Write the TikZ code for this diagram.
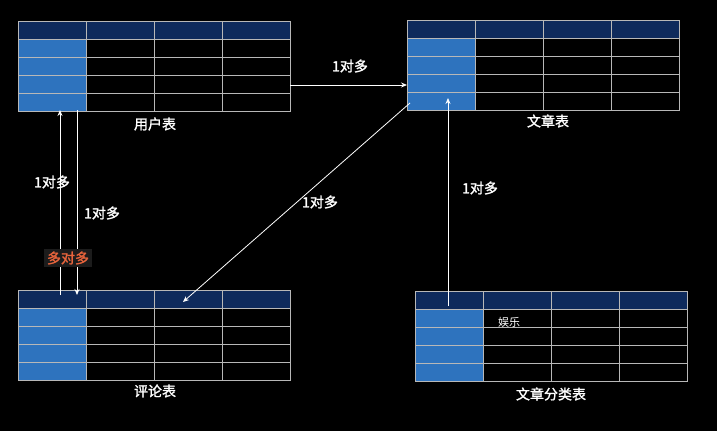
\documentclass[tikz,border=0pt]{standalone}
\usepackage{fontspec}
\setmainfont{Noto Sans CJK SC}[AutoFakeBold=1.5]
\definecolor{hdr}{HTML}{0E2A5C}
\definecolor{keyc}{HTML}{2E73BE}
\definecolor{gridc}{HTML}{B8B8B8}
\definecolor{redt}{HTML}{E8643C}
\definecolor{boxbg}{HTML}{1C1C1C}
\tikzset{lbl/.style={text=white,font=\fontsize{14}{16}\selectfont\bfseries},
  arr/.style={draw=white,line width=0.8pt,-{Stealth[length=6pt,width=5pt]}}}
\usetikzlibrary{arrows.meta}
\newcommand{\dbtable}[3]{% x y name
  \fill[hdr] (#1,#2) rectangle ++(272,18);
  \fill[keyc] (#1,#2+18) rectangle ++(68,72);
  \foreach \i in {1,2,3,4} \draw[gridc,line width=0.6pt] (#1,#2+18*\i) -- ++(272,0);
  \foreach \j in {1,2,3} \draw[gridc,line width=0.6pt] (#1+68*\j,#2) -- ++(0,90);
  \draw[gridc,line width=0.6pt] (#1,#2) rectangle ++(272,90);
  \coordinate (#3) at (#1,#2);
}
\begin{document}
\begin{tikzpicture}[x=1pt,y=-1pt]
\fill[black] (0,0) rectangle (717,431);
\useasboundingbox (0,0) rectangle (717,431);
\dbtable{18}{21}{ut}
\dbtable{407}{20}{at}
\dbtable{18}{290}{ct}
\dbtable{415}{291}{kt}
\node[lbl] (lu) at (155,124) {用户表};
\node[lbl] (la) at (548,121) {文章表};
\node[lbl] (lc) at (155,391) {评论表};
\node[lbl] (lk) at (551,394) {文章分类表};
\node[text=white,font=\fontsize{11}{13}\selectfont] at (509,322) {娱乐};
\coordinate (a1s) at (290,85); \coordinate (a1e) at (407,85);
\draw[arr] (a1s) -- (a1e);
\node[lbl] (t1) at (350,66) {1对多};
\coordinate (a2s) at (410,103); \coordinate (a2e) at (183,302);
\draw[arr] (a2s) -- (a2e);
\node[lbl] (t2) at (320,202) {1对多};
\coordinate (a3s) at (448,306); \coordinate (a3e) at (448,98);
\draw[arr] (a3s) -- (a3e);
\node[lbl] (t3) at (480,188) {1对多};
\coordinate (a4s) at (60,295); \coordinate (a4e) at (60,110);
\draw[arr] (a4s) -- (a4e);
\node[lbl] (t4) at (52,182) {1对多};
\coordinate (a5s) at (77,110); \coordinate (a5e) at (77,295);
\draw[arr] (a5s) -- (a5e);
\node[lbl] (t5) at (102,213) {1对多};
\node[fill=boxbg,text=redt,font=\fontsize{14}{16}\selectfont\bfseries,inner sep=3pt] (t6) at (68,258) {多对多};
\end{tikzpicture}
\end{document}
